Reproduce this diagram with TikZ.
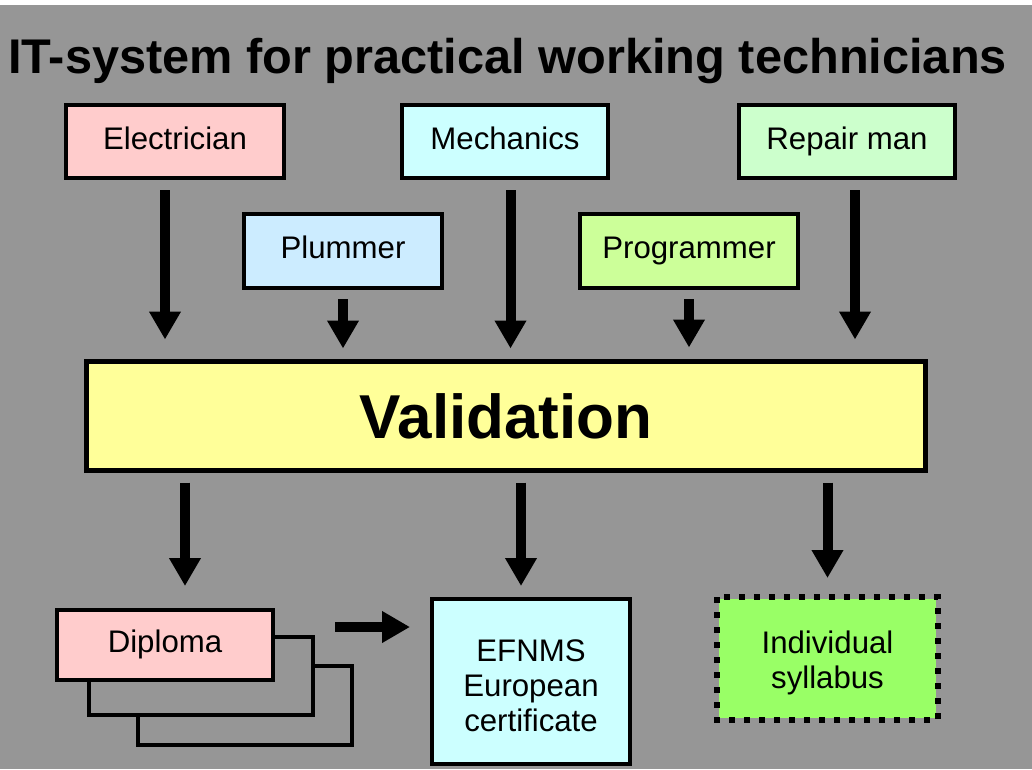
\documentclass[tikz,border=0pt]{standalone}
\usepackage{fontspec}
\setmainfont{Liberation Sans}
\usetikzlibrary{arrows.meta}
\definecolor{bggray}{RGB}{150,150,150}
\definecolor{cpink}{RGB}{255,204,204}
\definecolor{ccyan}{RGB}{204,255,255}
\definecolor{cmint}{RGB}{204,255,204}
\definecolor{csky}{RGB}{204,236,255}
\definecolor{clime}{RGB}{204,255,153}
\definecolor{cyel}{RGB}{255,255,153}
\definecolor{cgreen}{RGB}{153,255,102}
\tikzset{
  box/.style={draw=black, line width=4pt, inner sep=0pt, align=center,
    font=\fontsize{31.2}{35}\selectfont},
  oneline/.style={text height=22pt, text depth=7pt},
  backsheet/.style={draw=black, line width=4pt, fill=bggray, inner sep=0pt},
  arr/.style={line width=10pt, -{Triangle[width=30pt,length=28pt]}},
}
\begin{document}
\begin{tikzpicture}[x=1pt,y=-1pt]
\useasboundingbox (0,0) rectangle (1032,769);
\fill[bggray] (0,0) rectangle (1032,769);
\fill[white] (0,0) rectangle (1032,5);

\node[anchor=base west, inner sep=0pt, font=\fontsize{48.7}{50}\selectfont\bfseries] (title) at (8,73) {IT-system for practical working technicians};

\node[box, oneline, fill=cpink, minimum width=218pt, minimum height=73pt] (elec) at (175,141.5) {Electrician};
\node[box, oneline, fill=ccyan, minimum width=206pt, minimum height=73pt] (mech) at (505,141.5) {Mechanics};
\node[box, oneline, fill=cmint, minimum width=216pt, minimum height=73pt] (rep) at (847,141.5) {Repair man};
\node[box, oneline, fill=csky, minimum width=198pt, minimum height=74pt] (plum) at (343,251) {Plummer};
\node[box, oneline, fill=clime, minimum width=218pt, minimum height=74pt] (prog) at (689,251) {Programmer};

\node[box, line width=5pt, fill=cyel, minimum width=839pt, minimum height=109pt,
  font=\fontsize{62}{64}\selectfont\bfseries] (val) at (506,416) {Validation};

\node[backsheet, minimum width=214pt, minimum height=79pt] (dip3) at (245,705) {};
\node[backsheet, minimum width=224pt, minimum height=78pt] (dip2) at (201,676) {};
\node[box, oneline, fill=cpink, minimum width=216pt, minimum height=70pt] (dip) at (165,645) {Diploma};

\node[box, fill=ccyan, minimum width=198pt, minimum height=165pt, text height=105pt, text depth=6pt] (efn) at (531,681.5) {EFNMS\\European\\certificate};
\node[box, draw=none, fill=cgreen, minimum width=217pt, minimum height=119pt, text height=65pt, text depth=6pt] (syl) at (827.5,658.5) {Individual\\syllabus};
\draw[line width=6pt, dash pattern=on 6pt off 9pt] (syl.north west) rectangle (syl.south east);

\draw[arr, shorten <=10pt, shorten >=19.5pt] ([xshift=-10pt]elec.south) -- ([xshift=-10pt]elec.south |- val.north);
\draw[arr, shorten <=9pt, shorten >=10.5pt] (plum.south) -- (plum.south |- val.north);
\draw[arr, shorten <=10pt, shorten >=10.5pt] ([xshift=5.5pt]mech.south) -- ([xshift=5.5pt]mech.south |- val.north);
\draw[arr, shorten <=9pt, shorten >=11.5pt] (prog.south) -- (prog.south |- val.north);
\draw[arr, shorten <=10pt, shorten >=19.5pt] ([xshift=8pt]rep.south) -- ([xshift=8pt]rep.south |- val.north);

\draw[arr, shorten <=9.5pt, shorten >=22pt] ([xshift=20pt]dip.north |- val.south) -- ([xshift=20pt]dip.north);
\draw[arr, shorten <=9.5pt, shorten >=11pt] ([xshift=-10pt]efn.north |- val.south) -- ([xshift=-10pt]efn.north);
\draw[arr, shorten <=9.5pt, shorten >=19pt] (syl.north |- val.south) -- (syl.north);
\draw[arr, shorten <=60pt, shorten >=20pt] ([yshift=18pt]dip.east) -- ([yshift=18pt]dip.east -| efn.west);
\end{tikzpicture}
\end{document}
